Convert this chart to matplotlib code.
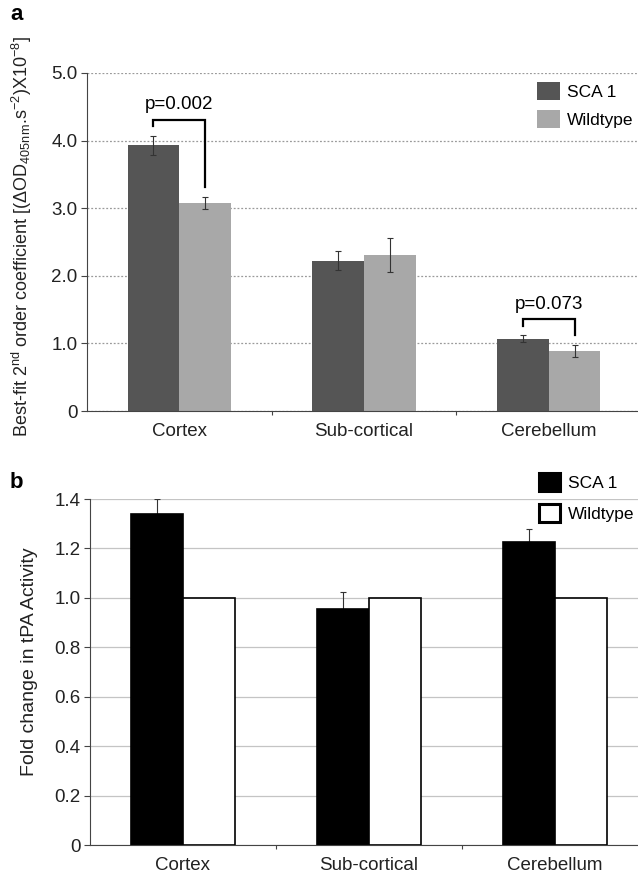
import matplotlib
matplotlib.use('Agg')
import matplotlib.pyplot as plt
import numpy as np

plt.rcParams['font.family'] = ['Liberation Sans', 'DejaVu Sans']
plt.rcParams['mathtext.fontset'] = 'custom'
plt.rcParams['mathtext.rm'] = 'Liberation Sans'
plt.rcParams['mathtext.it'] = 'Liberation Sans:italic'

# Дані
categories = ['Cortex', 'Sub-cortical', 'Cerebellum']
series = ['SCA 1', 'Wildtype']

# панель a: коефіцієнт
a_sca1 = [3.93, 2.22, 1.07]
a_sca1_err = [0.14, 0.14, 0.05]
a_wt = [3.08, 2.31, 0.89]
a_wt_err = [0.09, 0.25, 0.09]
a_pvalues = ['p=0.002', '', 'p=0.073']

# панель b: кратна зміна
b_sca1 = [1.34, 0.955, 1.227]
b_sca1_err = [0.06, 0.07, 0.05]
b_wt = [1.0, 1.0, 1.0]

W, H = 638, 876
fig = plt.figure(figsize=(W / 100, H / 100), dpi=100)

def px_axes(left, top, right, bottom):
    return fig.add_axes([left / W, 1 - bottom / H, (right - left) / W, (bottom - top) / H])

bw = 0.28
x = np.arange(len(categories))
fs = 13.5
lfs = 12.5

def style_axes(ax, ymax, ticks, ticklabels, grid_ls, grid_color):
    ax.set_xlim(-0.5, 2.5)
    ax.set_ylim(0, ymax)
    ax.set_yticks(ticks)
    ax.set_yticklabels(ticklabels, fontsize=fs, color='#222222')
    ax.set_xticks([0.5, 1.5])
    ax.set_xticklabels(['', ''])
    ax.tick_params(axis='x', length=3, direction='out', color='#444444')
    ax.tick_params(axis='y', length=4, direction='out', color='#444444', pad=3)
    for i, c in enumerate(categories):
        ax.text(i, -0.06 * ymax, c, ha='center', va='center', fontsize=fs, color='#222222')
    for s in ['top', 'right']:
        ax.spines[s].set_visible(False)
    ax.spines['left'].set_color('#444444')
    ax.spines['bottom'].set_color('#444444')
    ax.yaxis.grid(True, linestyle=grid_ls, color=grid_color, linewidth=0.9)
    ax.set_axisbelow(True)

# ---- панель a
ax1 = px_axes(87, 73, 641, 411)
ax1.bar(x - bw / 2, a_sca1, bw, color='#555555', label=series[0], zorder=2)
ax1.bar(x + bw / 2, a_wt, bw, color='#a8a8a8', label=series[1], zorder=2)
ax1.errorbar(x - bw / 2, a_sca1, yerr=a_sca1_err, fmt='none', ecolor='#333333',
             elinewidth=0.8, capsize=2, capthick=0.8, zorder=3)
ax1.errorbar(x + bw / 2, a_wt, yerr=a_wt_err, fmt='none', ecolor='#333333',
             elinewidth=0.8, capsize=2, capthick=0.8, zorder=3)
style_axes(ax1, 5.0, [0, 1, 2, 3, 4, 5], ['0', '1.0', '2.0', '3.0', '4.0', '5.0'],
           (0, (1.5, 1.5)), '#9a9a9a')

# скобки зі значенням p
for i, p in enumerate(a_pvalues):
    if not p:
        continue
    hl = a_sca1[i] + a_sca1_err[i]
    hr = a_wt[i] + a_wt_err[i]
    top = max(hl, hr) + 0.24
    xl, xr = i - bw / 2, i + bw / 2
    ax1.plot([xl, xl, xr, xr], [hl + 0.14, top, top, hr + 0.14],
             color='black', linewidth=1.6, zorder=4, solid_joinstyle='miter')
    ax1.text(i, top + 0.22, p, ha='center', va='center', fontsize=fs, color='black')

ax1.legend(loc='upper left', bbox_to_anchor=((537 - 87) / 554, (411 - 82) / 338),
           frameon=False, borderpad=0, borderaxespad=0, fontsize=lfs,
           handlelength=1.3, handleheight=1.25, handletextpad=0.4, labelspacing=0.55)
fig.text(22 / W, 1 - 237 / H,
         r'Best-fit 2$^{\mathrm{nd}}$ order coefficient [($\Delta$OD$_{\mathrm{405nm}}$.s$^{\mathrm{-2}}$)X10$^{\mathrm{-8}}$]',
         rotation=90, ha='center', va='center', fontsize=13, color='#222222')
fig.text(10 / W, 1 - 14 / H, 'a', fontsize=16, fontweight='bold', ha='left', va='center')

# ---- панель b
ax2 = px_axes(90, 499, 648, 845)
ax2.bar(x - bw / 2, b_sca1, bw, color='black', edgecolor='black', linewidth=1.2,
        label=series[0], zorder=2)
ax2.bar(x + bw / 2, b_wt, bw, color='white', edgecolor='black', linewidth=1.2,
        label=series[1], zorder=2)
ax2.errorbar(x - bw / 2, b_sca1, yerr=[np.zeros(3), b_sca1_err], fmt='none', ecolor='#333333',
             elinewidth=0.8, capsize=2, capthick=0.8, zorder=1)
style_axes(ax2, 1.4, [0, 0.2, 0.4, 0.6, 0.8, 1.0, 1.2, 1.4],
           ['0', '0.2', '0.4', '0.6', '0.8', '1.0', '1.2', '1.4'], '-', '#c4c4c4')

leg2 = ax2.legend(loc='upper left', bbox_to_anchor=((539 - 90) / 558, (845 - 473) / 346),
                  frameon=False, borderpad=0, borderaxespad=0, fontsize=lfs,
                  handlelength=1.2, handleheight=1.25, handletextpad=0.45, labelspacing=0.72)
for h in leg2.legend_handles:
    h.set_linewidth(2.2)
fig.text(30 / W, 1 - 662 / H, 'Fold change in tPA Activity', rotation=90,
         ha='center', va='center', fontsize=14, color='#222222')
fig.text(10 / W, 1 - 483 / H, 'b', fontsize=16, fontweight='bold', ha='left', va='center')

fig.savefig('out.png', dpi=100, facecolor='white')
